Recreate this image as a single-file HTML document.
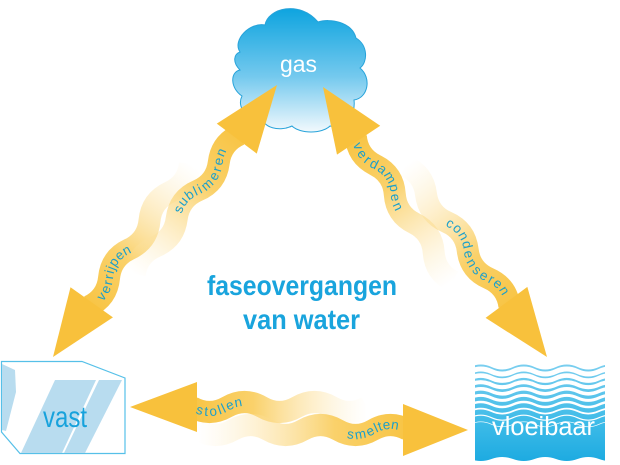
<!DOCTYPE html>
<html><head><meta charset="utf-8"><style>
html,body{margin:0;padding:0;background:#fff;}
svg{display:block;font-family:"Liberation Sans",Arial,sans-serif;}
</style></head><body>
<svg width="620" height="465" viewBox="0 0 620 465" xmlns="http://www.w3.org/2000/svg">
<defs>
 <linearGradient id="fade" x1="0" y1="0" x2="1" y2="0">
  <stop offset="0" stop-color="#fde9b8" stop-opacity="0"/>
  <stop offset="0.3" stop-color="#fcdd92" stop-opacity="0.45"/>
  <stop offset="0.65" stop-color="#f9cc5a" stop-opacity="0.9"/>
  <stop offset="1" stop-color="#f8c444" stop-opacity="1"/>
 </linearGradient>
 <linearGradient id="cloudg" x1="0" y1="0" x2="0" y2="1">
  <stop offset="0" stop-color="#0ea4df"/>
  <stop offset="0.55" stop-color="#74c9ee"/>
  <stop offset="1" stop-color="#f2f9fd"/>
 </linearGradient>
 <linearGradient id="waterg" x1="0" y1="0" x2="0" y2="1">
  <stop offset="0" stop-color="#7fd0f0"/>
  <stop offset="0.6" stop-color="#3dbbe8"/>
  <stop offset="1" stop-color="#1aa9e0"/>
 </linearGradient>
 <clipPath id="wc">
  <path d="M470 367 q10.75 -5 21.5 0 t21.5 0 t21.5 0 t21.5 0 t21.5 0 t21.5 0 t21.5 0 L620.5 459 q-10.75 4 -21.5 0 t-21.5 0 t-21.5 0 t-21.5 0 t-21.5 0 t-21.5 0 t-21.5 0 Z"/>
 </clipPath>
 <path id="wl" d="M470 0 q10.75 -5 21.5 0 t21.5 0 t21.5 0 t21.5 0 t21.5 0 t21.5 0 t21.5 0"/>
 <path id="pBr" d="M-167 0 q17.5 -10 35 0 t35 0 t35 0"/>
 <path id="pDr" d="M-168 0 q17.5 -10 35 0 t35 0 t35 0"/>
 <path id="pFr" d="M-130 0 q17.5 10 35 0 t35 0"/>
</defs>

<!-- cloud -->
<path d="M240 52 C232 40 250 22 265 25 C268 8 300 0 318 22 C330 18 352 22 356 38 C368 45 368 62 360 68 C372 78 368 98 354 100 C356 115 345 130 330 126 C322 134 300 134 292 126 C280 132 262 128 262 116 C248 120 236 108 242 96 C230 88 230 72 240 70 C232 62 234 54 240 52 Z" fill="url(#cloudg)" stroke="#27a3da" stroke-width="1"/>
<text x="280" y="72" font-size="23" fill="#ffffff" textLength="37" lengthAdjust="spacingAndGlyphs">gas</text>

<!-- vast box -->
<polygon points="1.5,361.5 82,361.5 125,378 125,453.5 20,453.5 1.5,432" fill="#ffffff" stroke="#56c0e8" stroke-width="1.2"/>
<polygon points="2,364 15,370 16,392 6,431 2,430" fill="#b8dcef"/>
<polygon points="55,380 96,380 62,453 21,453" fill="#b8dcef"/>
<polygon points="99,380 122,380 85,453 64,453" fill="#b8dcef"/>
<text x="43" y="427" font-size="30" fill="#17a2dc" textLength="44" lengthAdjust="spacingAndGlyphs">vast</text>

<!-- water box -->
<g clip-path="url(#wc)">
 <rect x="475" y="360" width="130" height="105" fill="url(#waterg)"/>
 <g fill="none" stroke="#ffffff">
  <use href="#wl" y="371.5" stroke-width="5.0"/>
  <use href="#wl" y="378.1" stroke-width="4.6"/>
  <use href="#wl" y="384.7" stroke-width="4.1"/>
  <use href="#wl" y="391.3" stroke-width="3.6"/>
  <use href="#wl" y="397.9" stroke-width="3.0"/>
  <use href="#wl" y="404.5" stroke-width="2.4"/>
  <use href="#wl" y="411.1" stroke-width="1.8"/>
  <use href="#wl" y="417.7" stroke-width="1.2"/>
  <use href="#wl" y="424.3" stroke-width="0.7"/>
 </g>
</g>
<text x="492" y="435" font-size="26" fill="#ffffff" textLength="103" lengthAdjust="spacingAndGlyphs">vloeibaar</text>

<!-- title -->
<text x="207" y="295" font-size="28" font-weight="bold" fill="#19a4dd" textLength="190" lengthAdjust="spacingAndGlyphs">faseovergangen</text>
<text x="243" y="329" font-size="28" font-weight="bold" fill="#19a4dd" textLength="117" lengthAdjust="spacingAndGlyphs">van water</text>

<g font-size="13.5" fill="#1c9fcb">

<!-- A verrijpen -->
<g transform="translate(53 357) rotate(125.3)">
 <path id="pA" d="M-62 0 q-17.5 -10 -35 0 t-35 0 t-35 0 t-35 0 t-35 0" fill="none" stroke="url(#fade)" stroke-width="22"/>
 <polygon points="0,0 -67,-26 -67,26" fill="#f8c13c"/>
 <text letter-spacing="1.2" dominant-baseline="middle"><textPath href="#pA" startOffset="13">verrijpen</textPath></text>
</g>

<!-- B sublimeren -->
<g transform="translate(277 85) rotate(-53.1)">
 <path d="M-62 0 q-17.5 -10 -35 0 t-35 0 t-35 0 t-35 0 t-35 0" fill="none" stroke="url(#fade)" stroke-width="22"/>
 <polygon points="0,0 -67,-25 -67,25" fill="#f8c13c"/>
 <text letter-spacing="1.7" dominant-baseline="middle"><textPath href="#pBr" startOffset="6">sublimeren</textPath></text>
</g>

<!-- C verdampen -->
<g transform="translate(323 87) rotate(-123.8)">
 <path id="pC" d="M-59 0 q-17.5 -10 -35 0 t-35 0 t-35 0 t-35 0 t-35 0" fill="none" stroke="url(#fade)" stroke-width="22"/>
 <polygon points="0,0 -64,-26 -64,26" fill="#f8c13c"/>
 <text letter-spacing="1.9" dominant-baseline="middle"><textPath href="#pC" startOffset="7">verdampen</textPath></text>
</g>

<!-- D condenseren -->
<g transform="translate(547 357) rotate(53.4)">
 <path d="M-63 0 q-17.5 -10 -35 0 t-35 0 t-35 0 t-35 0 t-35 0" fill="none" stroke="url(#fade)" stroke-width="22"/>
 <polygon points="0,0 -68,-26 -68,26" fill="#f8c13c"/>
 <text letter-spacing="1.9" dominant-baseline="middle"><textPath href="#pDr" startOffset="0">condenseren</textPath></text>
</g>

<!-- E stollen -->
<g transform="translate(130 407) rotate(180)">
 <path id="pE" d="M-62 0 q-17.5 -10 -35 0 t-35 0 t-35 0 t-35 0 t-35 0" fill="none" stroke="url(#fade)" stroke-width="22"/>
 <polygon points="0,0 -67,-25 -67,25" fill="#f8c13c"/>
 <text letter-spacing="1.4" dominant-baseline="middle"><textPath href="#pE" startOffset="5">stollen</textPath></text>
</g>

<!-- F smelten -->
<g transform="translate(468 430)">
 <path d="M-60 0 q-17.5 -10 -35 0 t-35 0 t-35 0 t-35 0 t-35 0 t-35 0" fill="none" stroke="url(#fade)" stroke-width="22"/>
 <polygon points="0,0 -65,-26 -65,26" fill="#f8c13c"/>
 <text letter-spacing="1" dominant-baseline="middle"><textPath href="#pFr" startOffset="10">smelten</textPath></text>
</g>

</g>
</svg>
</body></html>
